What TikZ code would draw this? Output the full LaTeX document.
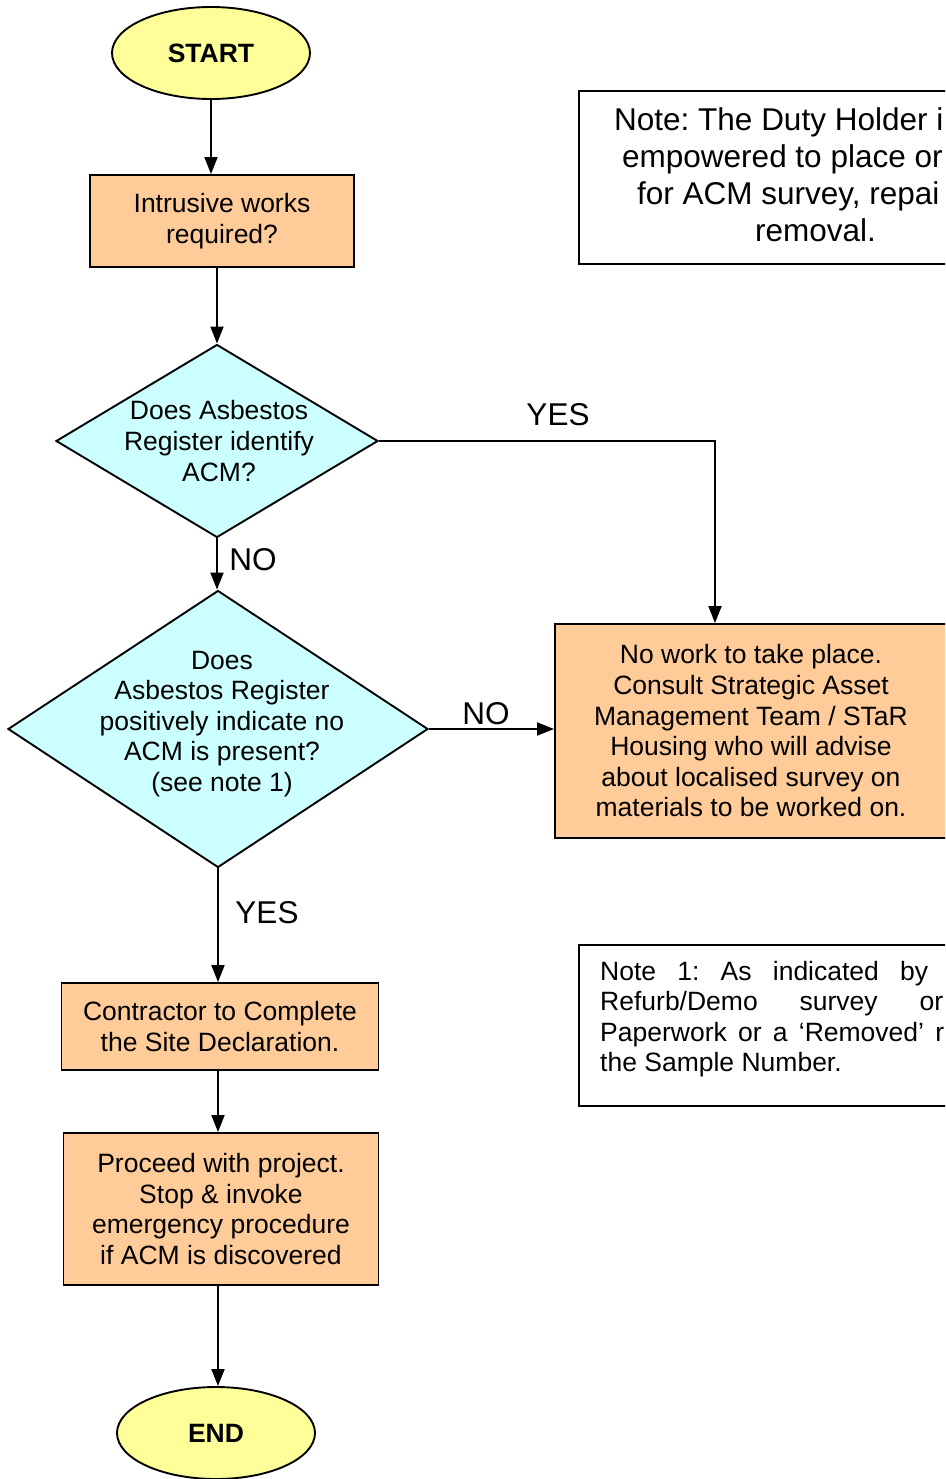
\documentclass[tikz,border=0pt]{standalone}
\usepackage{fontspec}
\setmainfont{Liberation Sans}
\usetikzlibrary{shapes.geometric, arrows.meta, positioning}
\definecolor{termfill}{HTML}{FFFF99}
\definecolor{procfill}{HTML}{FFCC99}
\definecolor{decfill}{HTML}{CCFFFF}
\newcommand{\boxfont}{\fontsize{26.5}{30.6}\selectfont}
\newcommand{\labfont}{\fontsize{31.5}{37.2}\selectfont}
\frenchspacing
\tikzset{
	shp/.style={draw, line width=1.9pt, font=\boxfont, align=center, inner sep=0pt},
	term/.style={shp, ellipse, fill=termfill, minimum width=198pt, minimum height=92pt, font=\boxfont\bfseries},
	proc/.style={shp, rectangle, fill=procfill},
	decision/.style={shp, diamond, fill=decfill},
	dtext/.style={font=\boxfont, align=center},
	notebox/.style={draw, line width=1.9pt},
	arr/.style={line width=1.9pt, -{Triangle[length=17pt, width=13pt]}},
	lab/.style={font=\labfont, inner sep=0pt}
}
\begin{document}
\begin{tikzpicture}[x=1pt, y=-1pt]
		\useasboundingbox (0, 0) rectangle (945, 1479);
		\clip (0, 0) rectangle (945, 1479);
		% flow chart
		\node[term] (start) at (211, 53) {START};
		\node[proc, minimum width=264pt, minimum height=92pt] (intr) at (222, 221) {Intrusive works\\required?};
		\node[decision, minimum width=322pt, minimum height=193pt, label={[dtext, xshift=2pt]center:Does Asbestos\\Register identify\\ACM?}] (reg) at (217, 441) {};
		\node[decision, minimum width=420pt, minimum height=277pt, label={[dtext, xshift=4pt, yshift=5pt]center:Does\\Asbestos Register\\positively indicate no\\ACM is present?\\(see note 1)}] (pos) at (218, 729) {};
		\node[proc, minimum width=392pt, minimum height=214pt] (nowork) at (751, 731) {No work to take place.\\Consult Strategic Asset\\Management Team / STaR\\Housing who will advise\\about localised survey on\\materials to be worked on.};
		\node[proc, minimum width=317pt, minimum height=87pt] (contr) at (220, 1026.5) {Contractor to Complete\\the Site Declaration.};
		\node[proc, minimum width=315pt, minimum height=152pt] (proceed) at (221, 1209) {Proceed with project.\\Stop \& invoke\\emergency procedure\\if ACM is discovered};
		\node[term] (end) at (216, 1433) {END};
		% connectors
		\draw[arr] (start) -- (start |- intr.north);
		\draw[arr] (intr.south -| reg.north) -- (reg.north);
		\draw[arr] (reg.east) -| ([xshift=-36pt]nowork.north);
		\draw[arr] (reg.south) -- (reg.south |- pos.north);
		\draw[arr] (pos.east) -- (pos.east -| nowork.west);
		\draw[arr] (pos.south) -- (pos.south |- contr.north);
		\draw[arr] (contr.south -| pos.south) -- (pos.south |- proceed.north);
		\draw[arr] (proceed.south -| pos.south) -- (pos.south |- end.north);
		\node[lab] (yes1) at (558, 415) {YES};
		\node[lab] (no1) at (253, 560) {NO};
		\node[lab] (no2) at (486, 714) {NO};
		\node[lab] (yes2) at (267, 913) {YES};
		% notes
		\draw[notebox] (579, 91) rectangle (1060, 264);
		\foreach \x/\y/\t in {614/131/{Note: The Duty Holder i}, 622/168/{empowered to place or}, 637/205/{for ACM survey, repai}, 755/242/{removal.}}
			\node[lab, anchor=base west] at (\x, \y) {\t};
		\draw[notebox] (579, 945) rectangle (1060, 1106);
		\foreach \y/\w/\t in {980/328/{Note 1: As indicated by}, 1010.5/343/{Refurb/Demo survey or}, 1041/344/{Paperwork or a ‘Removed’ r}}
			\node[font=\boxfont, inner sep=0pt, anchor=base west] at (600, \y) {\makebox[\w pt][s]{\t}};
		\node[font=\boxfont, inner sep=0pt, anchor=base west] at (600, 1071.5) {the Sample Number.};
	\end{tikzpicture}
\end{document}
